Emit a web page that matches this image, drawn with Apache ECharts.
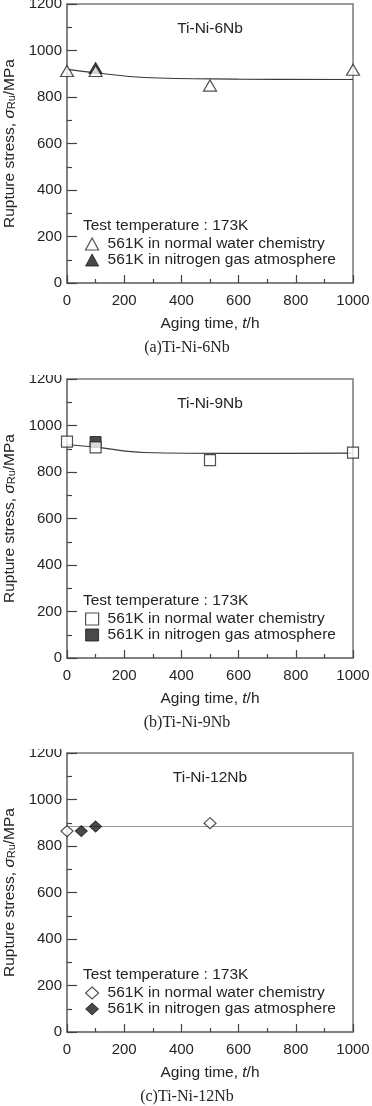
<!DOCTYPE html>
<html>
<head>
<meta charset="utf-8">
<script src="https://cdn.jsdelivr.net/npm/echarts@6/dist/echarts.min.js"></script>
<style>
  html, body { margin: 0; padding: 0; background: #fff; }
  body { width: 372px; height: 1106px; position: relative; overflow: hidden; }
  .panel { position: absolute; left: 0; width: 372px; height: 357px; }
</style>
</head>
<body>
<div id="chart-a" class="panel" style="top:0"></div>
<div id="chart-b" class="panel" style="top:375px"></div>
<div id="chart-c" class="panel" style="top:749px"></div>
<script>
// values (aging time in h, rupture stress in MPa)
const xTicks = [0, 200, 400, 600, 800, 1000];
const yTicks = [0, 200, 400, 600, 800, 1000, 1200];

const waterTimeA = [0, 100, 500, 1000];
const waterA = [912, 912, 849, 917];
const nitroTimeA = [100];
const nitroA = [925];
const fitTimeA = [0, 100, 270, 600, 1000];
const fitA = [919, 904, 884, 877, 875];

const waterTimeB = [0, 100, 500, 1000];
const waterB = [931, 906, 851, 883];
const nitroTimeB = [100];
const nitroB = [929];
const fitTimeB = [0, 100, 270, 600, 1000];
const fitB = [917, 907, 884, 880, 881];

const waterTimeC = [0, 500];
const waterC = [864, 898];
const nitroTimeC = [50, 100];
const nitroC = [864, 884];
const fitTimeC = [0, 1000];
const fitC = [884, 884];

const legendHead = 'Test temperature : 173K';
const waterName = '561K in normal water chemistry';
const nitroName = '561K in nitrogen gas atmosphere';

const SANS = '"Liberation Sans", Arial, sans-serif';
const INK = '#242424';
const FRAME = '#7a7a7a';

function pairs(xs, ys) {
    return xs.map((x, i) => [x, ys[i]]);
}

function drawPanel(id, cfg) {
    let chart = echarts.init(document.getElementById(id), null, { renderer: 'canvas' });
    let open = { color: '#fff', borderColor: INK, borderWidth: 1.2 };
    let filled = { color: '#1c1c1c', borderColor: '#1c1c1c', borderWidth: 1 };

    let option = {
        animation: false,
        backgroundColor: '#fff',
        textStyle: { fontFamily: SANS, color: INK },
        grid: {
            left: 67, right: 19, top: 4, height: 279,
            outerBoundsMode: 'none', containLabel: false,
            show: true, borderColor: FRAME, borderWidth: 1.5
        },
        xAxis: {
            type: 'value', min: xTicks[0], max: xTicks[xTicks.length - 1], interval: 200,
            name: '{t|Aging time, }{i|t}{t|/h}',
            nameLocation: 'middle', nameGap: 33,
            nameTextStyle: {
                rich: {
                    t: { fontSize: 15.5, fontFamily: SANS, color: INK },
                    i: { fontSize: 15.5, fontFamily: SANS, color: INK, fontStyle: 'italic' }
                }
            },
            axisLine: { lineStyle: { color: FRAME, width: 1.5 } },
            axisTick: { inside: true, length: 8, lineStyle: { color: '#444', width: 1.2 } },
            minorTick: { show: true, splitNumber: 2, length: 4, lineStyle: { color: '#444', width: 1.2 } },
            axisLabel: { fontSize: 15, color: INK, margin: 10, fontFamily: SANS, formatter: v => String(v) },
            splitLine: { show: false }
        },
        yAxis: {
            type: 'value', min: yTicks[0], max: yTicks[yTicks.length - 1], interval: 200,
            name: '{t|Rupture stress, }{i|σ}{s|Ru}{t|/MPa}',
            nameLocation: 'middle', nameGap: 49,
            nameTextStyle: {
                rich: {
                    t: { fontSize: 15.5, fontFamily: SANS, color: INK },
                    i: { fontSize: 15.5, fontFamily: SANS, color: INK, fontStyle: 'italic' },
                    s: { fontSize: 11, fontFamily: SANS, color: INK, padding: [6, 0, 0, 0] }
                }
            },
            axisLine: { lineStyle: { color: FRAME, width: 1.5 } },
            axisTick: { inside: true, length: 10, lineStyle: { color: '#444', width: 1.2 } },
            minorTick: { show: true, splitNumber: 2, length: 5, lineStyle: { color: '#444', width: 1.2 } },
            axisLabel: { fontSize: 15, color: INK, margin: 5, fontFamily: SANS, formatter: v => String(v) },
            splitLine: { show: false }
        },
        legend: {
            orient: 'vertical', left: 85, top: 236, padding: 0, itemGap: 0,
            itemWidth: 13, itemHeight: 12, symbolKeepAspect: false,
            textStyle: { fontSize: 15.5, color: INK, fontFamily: SANS, lineHeight: 14, padding: [0, 0, 0, 4] },
            data: [
                { name: waterName, icon: cfg.symbol, itemStyle: open },
                { name: nitroName, icon: cfg.symbol, itemStyle: filled }
            ]
        },
        graphic: [
            { type: 'text', x: 210, y: 29, style: { text: cfg.alloy, font: '15.5px ' + SANS, fill: INK, align: 'center', verticalAlign: 'middle' } },
            { type: 'text', x: 83, y: 225.5, style: { text: legendHead, font: '15.5px ' + SANS, fill: INK, align: 'left', verticalAlign: 'middle' } },
            { type: 'text', x: 187, y: 348, style: { text: cfg.caption, font: '16px "Liberation Serif", "Times New Roman", serif', fill: INK, align: 'center', verticalAlign: 'middle' } }
        ],
        series: [
            {
                name: 'fit', type: 'line', data: pairs(cfg.fitTime, cfg.fit),
                smooth: cfg.smooth, showSymbol: false, symbol: 'none', z: 1,
                lineStyle: { color: cfg.lineColor, width: 1.1 }
            },
            {
                name: nitroName, type: 'scatter', data: pairs(cfg.nitroTime, cfg.nitro),
                symbol: cfg.symbol, symbolSize: cfg.size, itemStyle: filled, z: 2
            },
            {
                name: waterName, type: 'scatter', data: pairs(cfg.waterTime, cfg.water),
                symbol: cfg.symbol, symbolSize: cfg.size, itemStyle: open, z: 3
            }
        ]
    };
    chart.setOption(option);
}

drawPanel('chart-a', {
    alloy: 'Ti-Ni-6Nb', caption: '(a)Ti-Ni-6Nb', symbol: 'triangle', size: [13, 11],
    waterTime: waterTimeA, water: waterA, nitroTime: nitroTimeA, nitro: nitroA,
    fitTime: fitTimeA, fit: fitA, smooth: 0.4, lineColor: '#3a3a3a'
});
drawPanel('chart-b', {
    alloy: 'Ti-Ni-9Nb', caption: '(b)Ti-Ni-9Nb', symbol: 'rect', size: [11, 11],
    waterTime: waterTimeB, water: waterB, nitroTime: nitroTimeB, nitro: nitroB,
    fitTime: fitTimeB, fit: fitB, smooth: 0.4, lineColor: '#3a3a3a'
});
drawPanel('chart-c', {
    alloy: 'Ti-Ni-12Nb', caption: '(c)Ti-Ni-12Nb', symbol: 'diamond', size: [12, 11],
    waterTime: waterTimeC, water: waterC, nitroTime: nitroTimeC, nitro: nitroC,
    fitTime: fitTimeC, fit: fitC, smooth: false, lineColor: '#9a9a9a'
});
</script>
</body>
</html>
